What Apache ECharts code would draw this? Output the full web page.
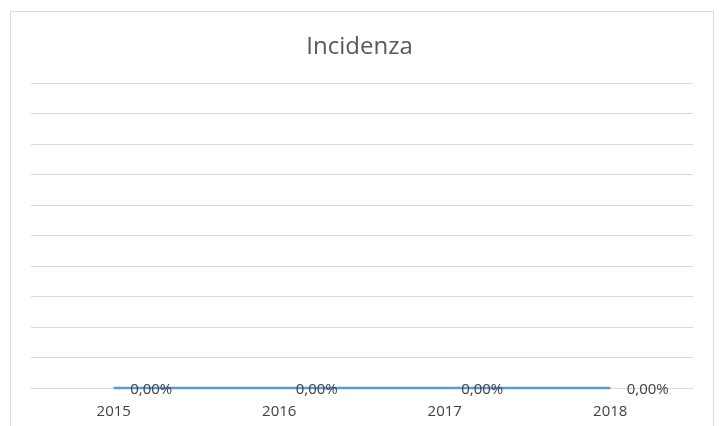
<!DOCTYPE html>
<html>
<head>
<meta charset="utf-8">
<script src="https://cdn.jsdelivr.net/npm/echarts@6/dist/echarts.min.js"></script>
<style>
html,body{margin:0;padding:0;background:#fff;}
#c{width:719px;height:426px;}
</style>
</head>
<body>
<div id="c"></div>
<script>
const titleText = 'Incidenza';
const categories = ['2015', '2016', '2017', '2018'];
const incidenza = [0, 0, 0, 0];
const yTicks = [0, 0.1, 0.2, 0.3, 0.4, 0.5, 0.6, 0.7, 0.8, 0.9, 1];

function fmtPct(v) {
  return (v * 100).toFixed(2).replace('.', ',') + '%';
}

const chart = echarts.init(document.getElementById('c'), null, {renderer: 'canvas'});
chart.setOption({
  backgroundColor: '#fff',
  animation: false,
  graphic: [{
    type: 'rect',
    shape: {x: 10.5, y: 11.5, width: 703, height: 440},
    style: {fill: 'none', stroke: '#d9d9d9', lineWidth: 1},
    silent: true
  }],
  title: {
    text: titleText,
    left: 'center',
    top: 30,
    textStyle: {fontFamily: 'Open Sans', fontSize: 24, fontWeight: 'normal', color: '#595959'}
  },
  grid: {left: 31, right: 26, top: 83, height: 305, containLabel: false},
  xAxis: {
    type: 'category',
    data: categories,
    boundaryGap: true,
    axisLine: {show: true, lineStyle: {color: '#d9d9d9', width: 1}},
    axisTick: {show: false},
    axisLabel: {fontFamily: 'Open Sans', fontSize: 15, color: '#404040', margin: 16}
  },
  yAxis: {
    type: 'value',
    min: yTicks[0],
    max: yTicks[yTicks.length - 1],
    interval: 0.1,
    axisLine: {show: false},
    axisTick: {show: false},
    axisLabel: {show: false},
    splitLine: {show: true, lineStyle: {color: '#d9d9d9', width: 1}}
  },
  series: [{
    type: 'line',
    data: incidenza,
    showSymbol: false,
    symbol: 'none',
    lineStyle: {color: '#5b9bd5', width: 2.75},
    z: 3
  }, {
    type: 'scatter',
    data: incidenza,
    symbol: 'circle',
    symbolSize: 1,
    itemStyle: {color: '#5b9bd5', opacity: 1},
    silent: true,
    z: 4,
    label: {
      show: true,
      position: 'right',
      distance: 16,
      offset: [0, 2],
      formatter: p => fmtPct(p.value),
      fontFamily: 'Open Sans',
      fontSize: 15,
      color: '#404040',
      opacity: 1
    }
  }]
});
</script>
</body>
</html>
